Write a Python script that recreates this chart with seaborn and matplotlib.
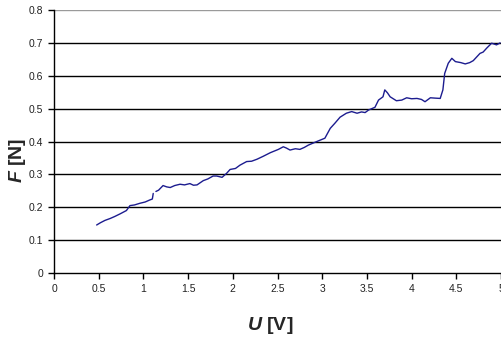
import numpy as np
import pandas as pd
import matplotlib
matplotlib.use("Agg")
import matplotlib.pyplot as plt
import seaborn as sns

u_volts = [0.477, 0.52, 0.57, 0.63, 0.68, 0.74, 0.81, 0.85, 0.90, 0.96, 1.02, 1.07, 1.10, 1.11,
           np.nan,
           1.14, 1.17, 1.22, 1.26, 1.30, 1.35, 1.41, 1.46, 1.52, 1.56, 1.60, 1.67, 1.72, 1.78,
           1.82, 1.88, 1.93, 1.97, 2.03, 2.08, 2.155, 2.21, 2.27, 2.34, 2.42, 2.51, 2.565, 2.60,
           2.64, 2.70, 2.75, 2.80, 2.845, 2.94, 3.03, 3.06, 3.09, 3.14, 3.20, 3.27, 3.33, 3.39,
           3.44, 3.48, 3.52, 3.59, 3.63, 3.68, 3.70, 3.73, 3.76, 3.83, 3.89, 3.945, 4.00, 4.06,
           4.11, 4.15, 4.21, 4.26, 4.32, 4.35, 4.37, 4.41, 4.45, 4.49, 4.55, 4.60, 4.65, 4.69,
           4.765, 4.80, 4.84, 4.895, 4.95, 4.99]
f_newtons = [0.146, 0.153, 0.160, 0.166, 0.172, 0.180, 0.190, 0.205, 0.207, 0.212, 0.216, 0.222, 0.225, 0.242,
             np.nan,
             0.248, 0.252, 0.266, 0.262, 0.260, 0.266, 0.270, 0.268, 0.272, 0.267, 0.268, 0.281, 0.286, 0.295,
             0.295, 0.291, 0.303, 0.315, 0.318, 0.328, 0.339, 0.340, 0.346, 0.355, 0.366, 0.376, 0.384, 0.380,
             0.374, 0.378, 0.376, 0.382, 0.389, 0.400, 0.410, 0.425, 0.440, 0.455, 0.474, 0.486, 0.491, 0.486,
             0.490, 0.488, 0.496, 0.504, 0.526, 0.536, 0.557, 0.548, 0.536, 0.524, 0.526, 0.533, 0.530, 0.531,
             0.528, 0.521, 0.533, 0.532, 0.531, 0.557, 0.607, 0.638, 0.653, 0.643, 0.640, 0.636, 0.640, 0.646,
             0.668, 0.672, 0.684, 0.699, 0.694, 0.700]

x_ticks = [0, 0.5, 1, 1.5, 2, 2.5, 3, 3.5, 4, 4.5, 5]
x_tick_labels = ["0", "0.5", "1", "1.5", "2", "2.5", "3", "3.5", "4", "4.5", "5"]
y_ticks = [0, 0.1, 0.2, 0.3, 0.4, 0.5, 0.6, 0.7, 0.8]
y_tick_labels = ["0", "0.1", "0.2", "0.3", "0.4", "0.5", "0.6", "0.7", "0.8"]

sns.set_style("white")
plt.rcParams["font.family"] = ["Liberation Sans", "DejaVu Sans"]
plt.rcParams["mathtext.fontset"] = "custom"
plt.rcParams["mathtext.bfit"] = "Liberation Sans:italic:bold"
plt.rcParams["mathtext.it"] = "Liberation Sans:italic"
plt.rcParams["mathtext.bf"] = "Liberation Sans:bold"
plt.rcParams["mathtext.rm"] = "Liberation Sans"

df = pd.DataFrame({"U": u_volts, "F": f_newtons})

fig = plt.figure(figsize=(5.01, 3.40), dpi=100)
ax = fig.add_axes([54 / 501, (340 - 273) / 340, 447 / 501, 263 / 340])

for yv in y_ticks[1:-1]:
    ax.axhline(yv, color="black", lw=1.0, zorder=1)
ax.axhline(0.8, color="#9a9a9a", lw=1.0, zorder=1)

ax.plot(df["U"], df["F"], color="#1c1c8f", lw=1.0, zorder=3)

ax.set_xlim(0, 5)
ax.set_ylim(0, 0.8)
ax.set_xticks(x_ticks)
ax.set_xticklabels(x_tick_labels)
ax.set_yticks(y_ticks)
ax.set_yticklabels(y_tick_labels)
ax.tick_params(axis="both", direction="out", length=4, width=1, color="black",
               labelsize=7.5, labelcolor="#222222", pad=4, bottom=True, left=True)

for side in ["top", "right"]:
    ax.spines[side].set_visible(False)
for side in ["left", "bottom"]:
    ax.spines[side].set_color("black")
    ax.spines[side].set_linewidth(1.0)

ax.set_xlabel("")
ax.set_ylabel("")
fig.text(270 / 501, 1 - 325 / 340, r"$\mathbfit{U}$ [V]", fontsize=14, fontweight="bold",
         ha="center", va="center")
fig.text(18 / 501, 1 - 160 / 340, r"$\mathbfit{F}$ [N]", fontsize=14, fontweight="bold",
         ha="center", va="center", rotation=90)

fig.savefig("out.png", dpi=100)
